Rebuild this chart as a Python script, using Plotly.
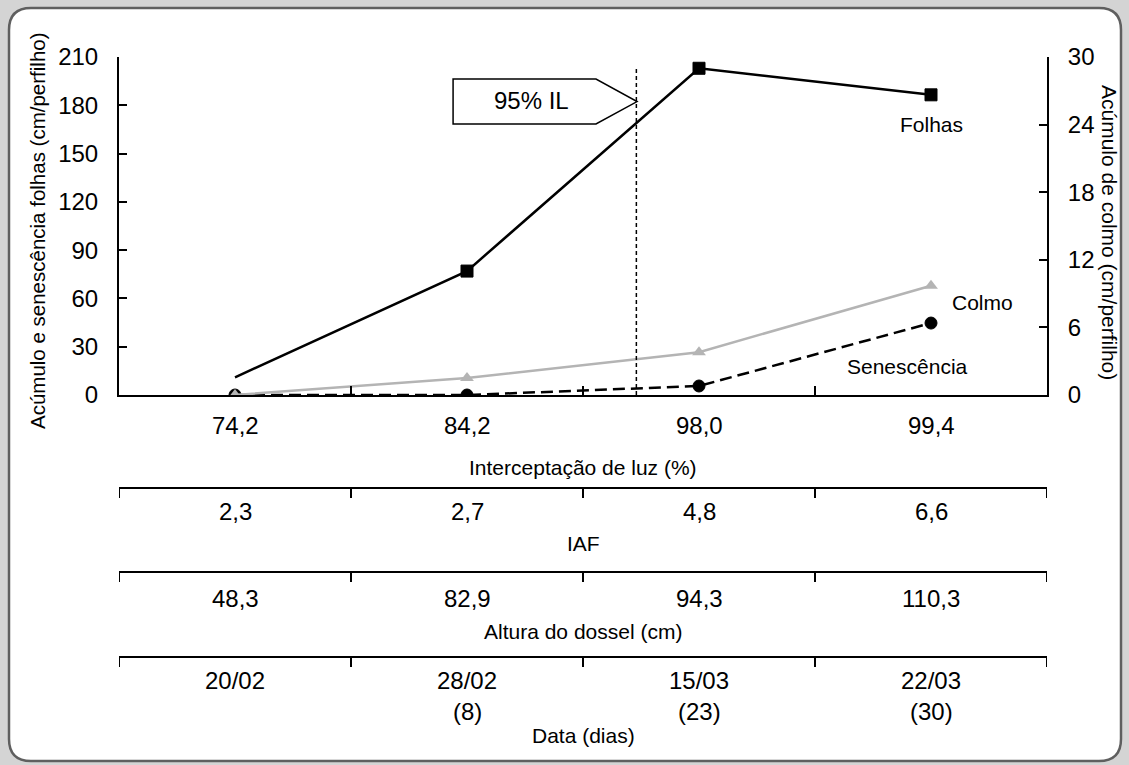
import plotly.graph_objects as go

# ---- data ----
luz = ["74,2", "84,2", "98,0", "99,4"]
iaf = ["2,3", "2,7", "4,8", "6,6"]
altura = ["48,3", "82,9", "94,3", "110,3"]
datas = ["20/02", "28/02", "15/03", "22/03"]
dias = ["", "(8)", "(23)", "(30)"]
folhas = [11.0, 77.0, 203.0, 186.5]
senescencia = [0.0, 0.0, 5.6, 44.7]
colmo = [0.0, 1.5, 3.8, 9.7]
il95_pos = 1.73  # position of 95% IL between categories

FONT = "Liberation Sans, Arial, sans-serif"
NUM = 24
LAB = 21
xs = list(range(len(luz)))

# pixel helpers for layout (plot area 119..1047 x, 57..395 y)
L, R, T, B = 119, 1047, 57, 395
def px(x):
    return (x - L) / (R - L)
def py(y):
    return (B - y) / (B - T)

fig = go.Figure()
fig.add_trace(go.Scatter(x=xs, y=colmo, yaxis="y2", mode="lines+markers",
                         line=dict(color="#b4b4b4", width=2.5),
                         marker=dict(symbol="triangle-up", size=12, color="#b4b4b4",
                                     opacity=1, line=dict(width=0)),
                         showlegend=False, hoverinfo="skip"))
fig.add_trace(go.Scatter(x=xs, y=senescencia, mode="lines+markers",
                         line=dict(color="black", width=2.5, dash="12px,6px"),
                         marker=dict(symbol="circle", size=12, color="#000000", opacity=1,
                                     line=dict(color="#000000", width=1)),
                         showlegend=False, hoverinfo="skip"))
fig.add_trace(go.Scatter(x=[x for x in xs[1:]], y=folhas[1:], mode="markers",
                         marker=dict(symbol="square", size=12, color="#000000", opacity=1,
                                     line=dict(color="#000000", width=1)),
                         showlegend=False, hoverinfo="skip"))
fig.add_trace(go.Scatter(x=xs, y=folhas, mode="lines",
                         line=dict(color="black", width=2.5),
                         showlegend=False, hoverinfo="skip"))

shapes = []
# outer rounded frame
x0, x1, y0, y1, r = 9, 1121, 8, 761, 22
path = (f"M {px(x0+r)},{py(y0)} L {px(x1-r)},{py(y0)} Q {px(x1)},{py(y0)} {px(x1)},{py(y0+r)} "
        f"L {px(x1)},{py(y1-r)} Q {px(x1)},{py(y1)} {px(x1-r)},{py(y1)} "
        f"L {px(x0+r)},{py(y1)} Q {px(x0)},{py(y1)} {px(x0)},{py(y1-r)} "
        f"L {px(x0)},{py(y0+r)} Q {px(x0)},{py(y0)} {px(x0+r)},{py(y0)} Z")
shapes.append(dict(type="path", path=path, xref="paper", yref="paper", layer="below",
                   fillcolor="white", line=dict(color="#5f5f5f", width=2.5)))

# x-axis boundary ticks (inside, upward)
for b in [0.5, 1.5, 2.5]:
    shapes.append(dict(type="line", xref="x", yref="paper", x0=b, x1=b, y0=0, y1=py(B - 9),
                       line=dict(color="black", width=2)))

# lower scale rows
for ly in [488, 572, 657]:
    shapes.append(dict(type="line", xref="x", yref="paper", x0=-0.5, x1=3.5,
                       y0=py(ly), y1=py(ly), line=dict(color="black", width=2)))
    for b in [-0.5, 0.5, 1.5, 2.5, 3.5]:
        shapes.append(dict(type="line", xref="x", yref="paper", x0=b, x1=b,
                           y0=py(ly), y1=py(ly + 10), line=dict(color="black", width=2)))

# 95% IL vertical dashed line
shapes.append(dict(type="line", xref="x", yref="y", x0=il95_pos, x1=il95_pos, y0=0, y1=204,
                   line=dict(color="black", width=1.5, dash="4px,3px")))
# pentagon arrow box
bx0, bx1, tip = 0.94, 1.556, 1.733
by0, by1, bym = 168.4, 196.3, 182.3
shapes.append(dict(type="path", xref="x", yref="y",
                   path=f"M {bx0},{by0} L {bx0},{by1} L {bx1},{by1} L {tip},{bym} L {bx1},{by0} Z",
                   fillcolor="white", line=dict(color="black", width=1.5)))

ann = []
def txt(x, y, s, xref="x", yref="paper", size=LAB, **kw):
    ann.append(dict(x=x, y=y, xref=xref, yref=yref, text=s, showarrow=False,
                    font=dict(family=FONT, size=size, color="black"),
                    xanchor="center", yanchor="middle", **kw))

for i in xs:
    txt(i, py(426), luz[i], size=NUM)
    txt(i, py(511), iaf[i], size=NUM)
    txt(i, py(598), altura[i], size=NUM)
    txt(i, py(680), datas[i], size=NUM)
    if dias[i]:
        txt(i, py(711), dias[i], size=NUM)

txt(1.5, py(467), "Interceptação de luz (%)")
txt(1.5, py(543), "IAF")
txt(1.5, py(631), "Altura do dossel (cm)")
txt(1.5, py(735), "Data (dias)")

txt(1.28, 182.7, "95% IL", yref="y", size=NUM)
txt(3.004, 167.8, "Folhas", yref="y")
txt(3.224, 57.2, "Colmo", yref="y")
txt(2.90, 18.0, "Senescência", yref="y")

txt(px(37), py(231), "Acúmulo e senescência folhas (cm/perfilho)", xref="paper",
    size=20.5, textangle=-90)
txt(px(1110), py(232), "Acúmulo de colmo (cm/perfilho)", xref="paper", textangle=90)

fig.update_layout(
    width=1129, height=765,
    margin=dict(l=L, r=1129 - R, t=T, b=765 - B),
    paper_bgcolor="#d4d4d4", plot_bgcolor="rgba(0,0,0,0)",
    font=dict(family=FONT, size=NUM, color="black"),
    shapes=shapes, annotations=ann,
    xaxis=dict(range=[-0.5, 3.5], showticklabels=False, ticks="", showgrid=False,
               zeroline=False, showline=True, linecolor="black", linewidth=2),
    yaxis=dict(range=[0, 210], dtick=30, tick0=0, ticks="inside", ticklen=8, tickwidth=2,
               tickcolor="black", showline=True, linecolor="black", linewidth=2,
               showgrid=False, zeroline=False, ticklabelstandoff=14,
               tickfont=dict(family=FONT, size=NUM)),
    yaxis2=dict(range=[0, 30], dtick=6, tick0=0, overlaying="y", side="right",
                ticks="inside", ticklen=8, tickwidth=2, tickcolor="black",
                showline=True, linecolor="black", linewidth=2, showgrid=False,
                zeroline=False, ticklabelstandoff=14,
                tickfont=dict(family=FONT, size=NUM)),
)

fig.write_html("out.html", config={"displayModeBar": False},
               post_script="document.body.style.margin='0';document.body.style.background='#d4d4d4';")
